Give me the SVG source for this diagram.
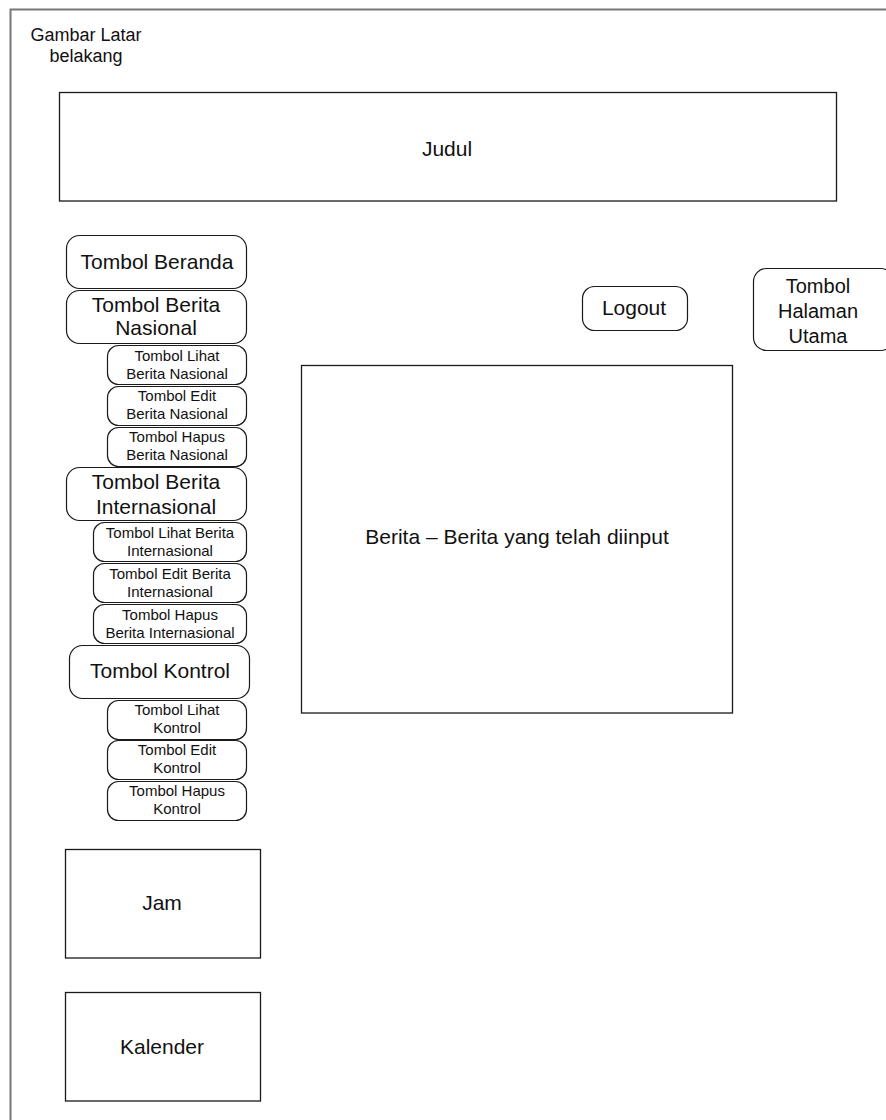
<svg xmlns="http://www.w3.org/2000/svg" width="886" height="1120" viewBox="0 0 886 1120">
<style>
.box{fill:#fff;stroke:#1a1a1a;stroke-width:1.3}
.btn{fill:#fff;stroke:#1a1a1a;stroke-width:1.2}
text{font-family:"Liberation Sans",Arial,sans-serif;fill:#111;text-anchor:middle}
.l{font-size:21px}
.m{font-size:21px}
.h{font-size:20px}
.s{font-size:15px}
.g{font-size:18px}
</style>
<rect width="886" height="1120" fill="#fff"/>
<g id="frame">
<path d="M10.5 1120 V9.5 H886" fill="none" stroke="#777" stroke-width="2"/>
<text class="g" x="86" y="41">Gambar Latar</text>
<text class="g" x="86" y="62">belakang</text>
</g>
<g id="connectors"></g>
<g id="judul"><rect class="box" x="59.5" y="92.5" width="777" height="108.5"/><text class="m" x="447" y="156">Judul</text></g>
<g id="beranda"><rect class="btn" x="66.5" y="235.5" width="180" height="53" rx="13"/><text class="l" x="157" y="269">Tombol Beranda</text></g>
<g id="berita-nasional"><rect class="btn" x="66.5" y="290.5" width="180" height="53" rx="13"/><text class="l" x="156" y="312">Tombol Berita</text><text class="l" x="156" y="335">Nasional</text></g>
<g id="lihat-nasional"><rect class="btn" x="107.5" y="345.5" width="139" height="39" rx="11"/><text class="s" x="177" y="361">Tombol Lihat</text><text class="s" x="177" y="379">Berita Nasional</text></g>
<g id="edit-nasional"><rect class="btn" x="107.5" y="386.5" width="139" height="39" rx="11"/><text class="s" x="177" y="401">Tombol Edit</text><text class="s" x="177" y="419">Berita Nasional</text></g>
<g id="hapus-nasional"><rect class="btn" x="107.5" y="427.5" width="139" height="39" rx="11"/><text class="s" x="177" y="442">Tombol Hapus</text><text class="s" x="177" y="460">Berita Nasional</text></g>
<g id="berita-internasional"><rect class="btn" x="66.5" y="467.5" width="180" height="53" rx="13"/><text class="l" x="156" y="489">Tombol Berita</text><text class="l" x="156" y="514">Internasional</text></g>
<g id="lihat-internasional"><rect class="btn" x="93.5" y="522.5" width="153" height="39" rx="11"/><text class="s" x="170" y="538">Tombol Lihat Berita</text><text class="s" x="170" y="556">Internasional</text></g>
<g id="edit-internasional"><rect class="btn" x="93.5" y="563.5" width="153" height="39" rx="11"/><text class="s" x="170" y="579">Tombol Edit Berita</text><text class="s" x="170" y="597">Internasional</text></g>
<g id="hapus-internasional"><rect class="btn" x="93.5" y="604.5" width="153" height="39" rx="11"/><text class="s" x="170" y="620">Tombol Hapus</text><text class="s" x="170" y="638">Berita Internasional</text></g>
<g id="kontrol"><rect class="btn" x="69.5" y="645.5" width="180" height="53" rx="13"/><text class="l" x="160" y="678">Tombol Kontrol</text></g>
<g id="lihat-kontrol"><rect class="btn" x="107.5" y="700.5" width="139" height="39" rx="11"/><text class="s" x="177" y="715">Tombol Lihat</text><text class="s" x="177" y="733">Kontrol</text></g>
<g id="edit-kontrol"><rect class="btn" x="107.5" y="740.5" width="139" height="39" rx="11"/><text class="s" x="177" y="755">Tombol Edit</text><text class="s" x="177" y="773">Kontrol</text></g>
<g id="hapus-kontrol"><rect class="btn" x="107.5" y="781.5" width="139" height="39" rx="11"/><text class="s" x="177" y="796">Tombol Hapus</text><text class="s" x="177" y="814">Kontrol</text></g>
<g id="jam"><rect class="box" x="65.5" y="849.5" width="195" height="108.5"/><text class="m" x="162" y="910">Jam</text></g>
<g id="kalender"><rect class="box" x="65.5" y="992.5" width="195" height="108.5"/><text class="m" x="162" y="1054">Kalender</text></g>
<g id="logout"><rect class="btn" x="582.5" y="286.5" width="105" height="44" rx="12"/><text class="m" x="634" y="315">Logout</text></g>
<g id="halaman-utama"><rect class="btn" x="753.5" y="268.5" width="140" height="82" rx="13"/><text class="h" x="818" y="293">Tombol</text><text class="h" x="818" y="318">Halaman</text><text class="h" x="818" y="343">Utama</text></g>
<g id="berita"><rect class="box" x="301.5" y="365.5" width="431" height="347.5"/><text class="m" x="517" y="544">Berita – Berita yang telah diinput</text></g>
</svg>
